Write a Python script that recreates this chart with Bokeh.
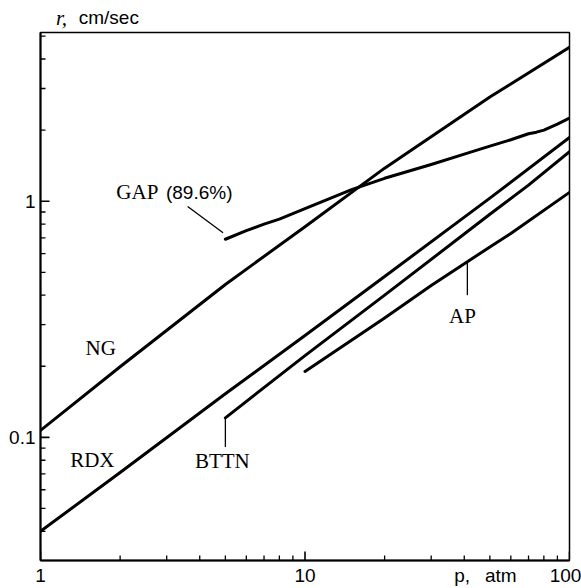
import math
from bokeh.plotting import figure
from bokeh.models import FixedTicker, Label, Range1d
from bokeh.layouts import column
from bokeh.core.properties import value
from bokeh.embed import file_html
from bokeh.resources import INLINE

# ---- data ----
p_NG = [1, 2, 5, 10, 20, 50, 100]
r_NG = [0.107, 0.199, 0.444, 0.78, 1.38, 2.76, 4.48]

p_RDX = [1, 2, 5, 10, 20, 50, 100]
r_RDX = [0.040, 0.071, 0.153, 0.27, 0.48, 1.03, 1.86]

p_GAP = [5, 6, 7, 8, 10, 15, 20, 30, 42, 50, 60, 70, 75, 80, 90, 100]
r_GAP = [0.69, 0.75, 0.80, 0.84, 0.93, 1.12, 1.25, 1.43, 1.61, 1.71, 1.82, 1.93, 1.96, 2.00, 2.12, 2.25]

p_BTTN = [5, 10, 20, 50, 70, 100]
r_BTTN = [0.121, 0.222, 0.40, 0.88, 1.17, 1.62]

p_AP = [10, 20, 30, 50, 60, 100]
r_AP = [0.19, 0.32, 0.44, 0.64, 0.73, 1.09]

x_major = [1, 10, 100]
x_minor = [2, 3, 4, 5, 6, 7, 8, 9, 20, 30, 40, 50, 60, 70, 80, 90]
y_major = [0.1, 1]
y_minor = [0.04, 0.05, 0.06, 0.07, 0.08, 0.09, 0.2, 0.3, 0.4, 0.5, 0.6, 0.7, 0.8, 0.9, 2, 3, 4, 5]
# tick-label row of the x axis: "100" sits a little left of its tick (as in the reference),
# and the axis title "p, atm" is written in the same row
x_label_row = {1: "1", 10: "10", 96.6: "100", 39.3: "p,", 55.0: "atm"}
y_tick_labels = {0.1: "0.1", 1: "1"}

SANS = "Liberation Sans"
SERIF = "Liberation Serif"
W = 581
X_LO, X_HI = 1, 100
Y_LO, Y_HI = 0.0301, 5.18
FRAME_W, FRAME_H = 529, 532
PX_PER_DEC_X = FRAME_W / math.log10(X_HI / X_LO)
PX_PER_DEC_Y = FRAME_H / math.log10(Y_HI / Y_LO)
MAJOR_LEN, MINOR_LEN = 9, 5   # inward tick lengths, px

# ---- main plot ----
p = figure(width=W, height=558, x_axis_type="log", y_axis_type="log",
           x_range=(X_LO, X_HI), y_range=(Y_LO, Y_HI),
           output_backend="svg", toolbar_location=None,
           min_border_left=40, min_border_right=12, min_border_top=2, min_border_bottom=24)
p.xgrid.visible = False
p.ygrid.visible = False
p.outline_line_color = "black"
p.outline_line_width = 1.5

p.xaxis.ticker = FixedTicker(ticks=list(x_label_row), minor_ticks=[])
p.yaxis.ticker = FixedTicker(ticks=y_major, minor_ticks=[])
p.xaxis.major_label_overrides = x_label_row
p.yaxis.major_label_overrides = y_tick_labels
for ax in (p.xaxis, p.yaxis):
    ax.axis_line_width = 2
    ax.axis_line_color = "black"
    ax.major_tick_in = 0
    ax.major_tick_out = 0
    ax.minor_tick_in = 0
    ax.minor_tick_out = 0
    ax.major_tick_line_color = None
    ax.minor_tick_line_color = None
    ax.major_label_text_font = SANS
    ax.major_label_text_font_size = "19px"
    ax.major_label_text_color = "black"
p.xaxis.major_label_standoff = 4
p.yaxis.major_label_standoff = 5

# inward tick marks at the tick values (segments in data space, on the plot's log scales)
def xticks(vals, length, lw):
    top_y = Y_LO * 10 ** (length / PX_PER_DEC_Y)
    p.segment(x0=vals, y0=[Y_LO] * len(vals), x1=vals, y1=[top_y] * len(vals),
              line_color="black", line_width=lw)

def yticks(vals, length, lw):
    right_x = X_LO * 10 ** (length / PX_PER_DEC_X)
    p.segment(x0=[X_LO] * len(vals), y0=vals, x1=[right_x] * len(vals), y1=vals,
              line_color="black", line_width=lw)

xticks(x_major, MAJOR_LEN, 1.6)
xticks(x_minor, MINOR_LEN, 1.3)
yticks(y_major, MAJOR_LEN, 1.6)
yticks(y_minor, MINOR_LEN, 1.3)

LW = 3
for xs, ys in ((p_NG, r_NG), (p_RDX, r_RDX), (p_GAP, r_GAP), (p_BTTN, r_BTTN), (p_AP, r_AP)):
    p.line(xs, ys, line_width=LW, line_color="black", line_join="round", line_cap="round")

# leader lines
p.line([3.6, 4.9], [0.95, 0.735], line_width=1.3, line_color="black")
p.line([5, 5], [0.121, 0.091], line_width=1.3, line_color="black")
p.line([41.1, 41.1], [0.553, 0.40], line_width=1.3, line_color="black")

def lab(x, y, t, font, size, align="center"):
    p.add_layout(Label(x=x, y=y, text=t, text_font=font, text_font_size=size,
                       text_align=align, text_baseline="middle", text_color="black"))

lab(1.69, 0.24, "NG", SERIF, "21px")
lab(1.57, 0.080, "RDX", SERIF, "21px")
lab(4.87, 0.0796, "BTTN", SERIF, "21px")
lab(39.4, 0.326, "AP", SERIF, "21px")
lab(2.79, 1.09, "GAP", SERIF, "21px", align="right")
lab(5.32, 1.09, "(89.6%)", SANS, "19px", align="right")

# ---- top strip: y-axis title ----
top = figure(width=W, height=30, x_range=Range1d(0, W), y_range=Range1d(30, 0),
             x_axis_location=None, y_axis_location=None, output_backend="svg",
             toolbar_location=None, min_border=0)
top.outline_line_color = None
top.xgrid.visible = False
top.ygrid.visible = False
top.text(x=[17], y=[17], text=["r,"], text_font=value(SERIF), text_font_style="italic",
         text_font_size="21px", text_align="left", text_baseline="middle", text_color="black")
top.text(x=[42], y=[17], text=["cm/sec"], text_font=value(SANS),
         text_font_size="19px", text_align="left", text_baseline="middle", text_color="black")

layout = column(top, p, spacing=0)
open("out.html", "w").write(file_html(layout, INLINE))
